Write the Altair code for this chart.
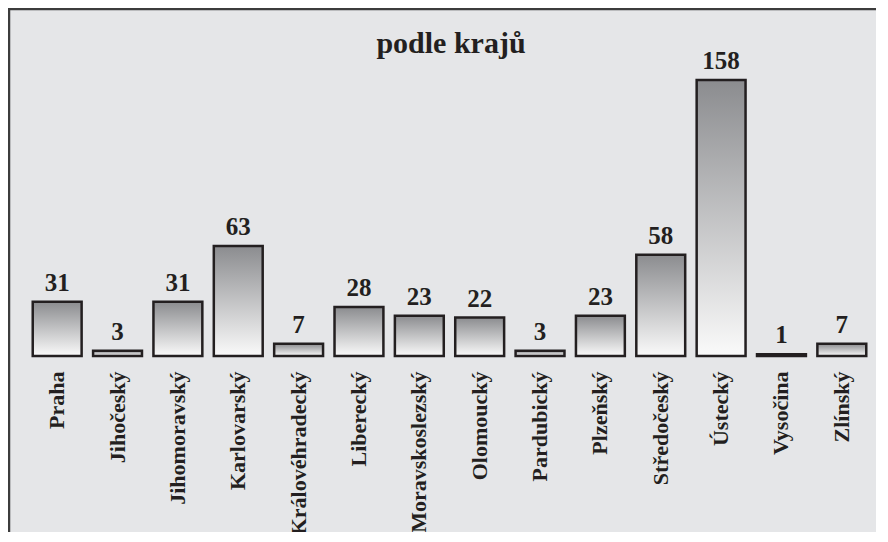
import altair as alt
import pandas as pd

regions = ["Praha", "Jihočeský", "Jihomoravský", "Karlovarský", "Královéhradecký",
           "Liberecký", "Moravskoslezský", "Olomoucký", "Pardubický", "Plzeňský",
           "Středočeský", "Ústecký", "Vysočina", "Zlínský"]
counts = [31, 3, 31, 63, 7, 28, 23, 22, 3, 23, 58, 158, 1, 7]
title_text = "podle krajů"

df = pd.DataFrame({"kraj": regions, "pocet": counts})
df_title = pd.DataFrame({"t": [title_text]})

FONT = "Liberation Serif"
INK = "#231f20"
BG = "#e5e6e8"

grad = alt.Gradient(
    gradient="linear",
    x1=0, y1=0, x2=0, y2=1,
    stops=[alt.GradientStop(color="#8b8c8f", offset=0),
           alt.GradientStop(color="#fafafa", offset=1)],
)

x_enc = alt.X("kraj:N", sort=None,
              scale=alt.Scale(paddingInner=0.19, paddingOuter=0.095),
              axis=alt.Axis(title=None, labelAngle=-90, labelFont=FONT,
                            labelFontWeight="bold", labelFontSize=22,
                            labelColor=INK, labelPadding=15, ticks=False,
                            domain=False, labelLimit=400))
y_enc = alt.Y("pocet:Q", scale=alt.Scale(domain=[0, 158], nice=False),
              axis=None)

base = alt.Chart(df).encode(x=x_enc, y=y_enc)

bars = base.mark_bar(color=grad, stroke=INK, strokeWidth=2.5)
labels = base.mark_text(font=FONT, fontWeight="bold", fontSize=25, color=INK,
                        baseline="alphabetic", dy=-11).encode(text="pocet:Q")

title = alt.Chart(df_title).mark_text(font=FONT, fontWeight="bold", fontSize=30,
                                      color=INK, baseline="alphabetic",
                                      align="center").encode(
    text="t:N", x=alt.value(424), y=alt.value(-27))

top_border = alt.Chart(df_title).mark_rule(color="#3c3c3c", strokeWidth=2.5).encode(
    x=alt.value(-19), x2=alt.value(870), y=alt.value(-71))
left_border = alt.Chart(df_title).mark_rule(color="#3c3c3c", strokeWidth=2.5).encode(
    x=alt.value(-18), y=alt.value(-72), y2=alt.value(460))

chart = alt.layer(bars, labels, title, top_border, left_border).properties(
    width=845, height=276,
    autosize=alt.AutoSizeParams(type="none"),
    padding={"left": 19, "top": 72, "right": 4, "bottom": 176},
    background=BG,
).configure_view(stroke=None)

chart.save("out.html", embed_options={"renderer": "svg", "actions": False})
